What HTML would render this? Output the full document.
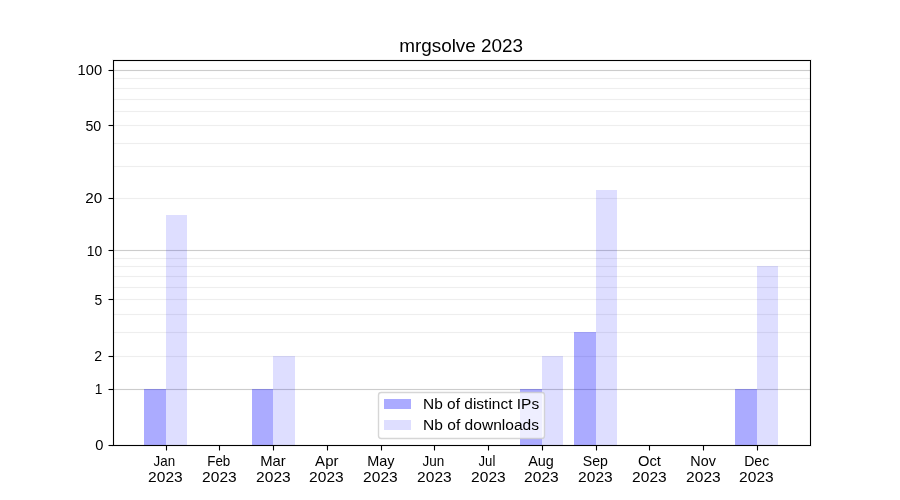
<!DOCTYPE html>
<html><head><meta charset="utf-8"><title>mrgsolve 2023</title>
<style>
html,body{margin:0;padding:0;background:#fff;}
svg{display:block;}
text{font-family:"Liberation Sans",sans-serif;fill:#000;}
.tx{will-change:transform;}
</style></head><body>
<svg width="900" height="500" viewBox="0 0 900 500">
<rect x="0" y="0" width="900" height="500" fill="#fff"/>
<g fill="#eeeeee"><rect x="113" y="78" width="697" height="1"/><rect x="113" y="88" width="697" height="1"/><rect x="113" y="99" width="697" height="1"/><rect x="113" y="111" width="697" height="1"/><rect x="113" y="125" width="697" height="1"/><rect x="113" y="143" width="697" height="1"/><rect x="113" y="166" width="697" height="1"/><rect x="113" y="198" width="697" height="1"/><rect x="113" y="258" width="697" height="1"/><rect x="113" y="266" width="697" height="1"/><rect x="113" y="276" width="697" height="1"/><rect x="113" y="287" width="697" height="1"/><rect x="113" y="299" width="697" height="1"/><rect x="113" y="314" width="697" height="1"/><rect x="113" y="332" width="697" height="1"/><rect x="113" y="356" width="697" height="1"/></g>
<g fill="#000" fill-opacity="0.0118"><rect x="113" y="69" width="697" height="1"/><rect x="113" y="71" width="697" height="1"/><rect x="113" y="249" width="697" height="1"/><rect x="113" y="251" width="697" height="1"/><rect x="113" y="388" width="697" height="1"/><rect x="113" y="390" width="697" height="1"/></g>
<g fill="#000" fill-opacity="0.004"><rect x="113" y="77" width="697" height="1"/><rect x="113" y="79" width="697" height="1"/><rect x="113" y="87" width="697" height="1"/><rect x="113" y="89" width="697" height="1"/><rect x="113" y="98" width="697" height="1"/><rect x="113" y="100" width="697" height="1"/><rect x="113" y="110" width="697" height="1"/><rect x="113" y="112" width="697" height="1"/><rect x="113" y="124" width="697" height="1"/><rect x="113" y="126" width="697" height="1"/><rect x="113" y="142" width="697" height="1"/><rect x="113" y="144" width="697" height="1"/><rect x="113" y="165" width="697" height="1"/><rect x="113" y="167" width="697" height="1"/><rect x="113" y="197" width="697" height="1"/><rect x="113" y="199" width="697" height="1"/><rect x="113" y="257" width="697" height="1"/><rect x="113" y="259" width="697" height="1"/><rect x="113" y="265" width="697" height="1"/><rect x="113" y="267" width="697" height="1"/><rect x="113" y="275" width="697" height="1"/><rect x="113" y="277" width="697" height="1"/><rect x="113" y="286" width="697" height="1"/><rect x="113" y="288" width="697" height="1"/><rect x="113" y="298" width="697" height="1"/><rect x="113" y="300" width="697" height="1"/><rect x="113" y="313" width="697" height="1"/><rect x="113" y="315" width="697" height="1"/><rect x="113" y="331" width="697" height="1"/><rect x="113" y="333" width="697" height="1"/><rect x="113" y="355" width="697" height="1"/><rect x="113" y="357" width="697" height="1"/></g>
<g fill="#cccccc"><rect x="113" y="70" width="697" height="1"/><rect x="113" y="250" width="697" height="1"/><rect x="113" y="389" width="697" height="1"/></g>
<g fill="#0000ff" fill-opacity="0.33"><rect x="144" y="389" width="22" height="56"/><rect x="252" y="389" width="21" height="56"/><rect x="520" y="389" width="22" height="56"/><rect x="574" y="332" width="22" height="113"/><rect x="735" y="389" width="22" height="56"/></g>
<g fill="#0000ff" fill-opacity="0.13"><rect x="166" y="215" width="21" height="230"/><rect x="273" y="356" width="22" height="89"/><rect x="542" y="356" width="21" height="89"/><rect x="596" y="190" width="21" height="255"/><rect x="757" y="266" width="21" height="179"/></g>
<g fill="#000"><rect x="113" y="60" width="1" height="386"/><rect x="810" y="60" width="1" height="386"/><rect x="113" y="60" width="698" height="1"/><rect x="113" y="445" width="698" height="1"/></g>
<g fill="#000" fill-opacity="0.055"><rect x="112" y="59" width="1" height="388"/><rect x="114" y="61" width="1" height="384"/><rect x="809" y="61" width="1" height="384"/><rect x="811" y="59" width="1" height="388"/><rect x="113" y="59" width="698" height="1"/><rect x="114" y="61" width="695" height="1"/><rect x="114" y="444" width="695" height="1"/><rect x="113" y="446" width="698" height="1"/></g>
<g fill="#000"><rect x="108.5" y="70" width="4.5" height="1"/><rect x="108.5" y="125" width="4.5" height="1"/><rect x="108.5" y="198" width="4.5" height="1"/><rect x="108.5" y="250" width="4.5" height="1"/><rect x="108.5" y="299" width="4.5" height="1"/><rect x="108.5" y="356" width="4.5" height="1"/><rect x="108.5" y="389" width="4.5" height="1"/><rect x="108.5" y="445" width="4.5" height="1"/><rect x="166" y="446" width="1" height="4.5"/><rect x="219" y="446" width="1" height="4.5"/><rect x="273" y="446" width="1" height="4.5"/><rect x="327" y="446" width="1" height="4.5"/><rect x="381" y="446" width="1" height="4.5"/><rect x="434" y="446" width="1" height="4.5"/><rect x="488" y="446" width="1" height="4.5"/><rect x="542" y="446" width="1" height="4.5"/><rect x="596" y="446" width="1" height="4.5"/><rect x="649" y="446" width="1" height="4.5"/><rect x="703" y="446" width="1" height="4.5"/><rect x="757" y="446" width="1" height="4.5"/></g>
<g fill="#000" fill-opacity="0.055"><rect x="109" y="69" width="4" height="1"/><rect x="109" y="71" width="4" height="1"/><rect x="109" y="124" width="4" height="1"/><rect x="109" y="126" width="4" height="1"/><rect x="109" y="197" width="4" height="1"/><rect x="109" y="199" width="4" height="1"/><rect x="109" y="249" width="4" height="1"/><rect x="109" y="251" width="4" height="1"/><rect x="109" y="298" width="4" height="1"/><rect x="109" y="300" width="4" height="1"/><rect x="109" y="355" width="4" height="1"/><rect x="109" y="357" width="4" height="1"/><rect x="109" y="388" width="4" height="1"/><rect x="109" y="390" width="4" height="1"/><rect x="109" y="444" width="4" height="1"/><rect x="109" y="446" width="4" height="1"/><rect x="165" y="446" width="1" height="4"/><rect x="167" y="446" width="1" height="4"/><rect x="218" y="446" width="1" height="4"/><rect x="220" y="446" width="1" height="4"/><rect x="272" y="446" width="1" height="4"/><rect x="274" y="446" width="1" height="4"/><rect x="326" y="446" width="1" height="4"/><rect x="328" y="446" width="1" height="4"/><rect x="380" y="446" width="1" height="4"/><rect x="382" y="446" width="1" height="4"/><rect x="433" y="446" width="1" height="4"/><rect x="435" y="446" width="1" height="4"/><rect x="487" y="446" width="1" height="4"/><rect x="489" y="446" width="1" height="4"/><rect x="541" y="446" width="1" height="4"/><rect x="543" y="446" width="1" height="4"/><rect x="595" y="446" width="1" height="4"/><rect x="597" y="446" width="1" height="4"/><rect x="648" y="446" width="1" height="4"/><rect x="650" y="446" width="1" height="4"/><rect x="702" y="446" width="1" height="4"/><rect x="704" y="446" width="1" height="4"/><rect x="756" y="446" width="1" height="4"/><rect x="758" y="446" width="1" height="4"/></g>
<g class="tx"><text transform="translate(153.538 466.000) scale(0.9548 1.0000)" font-size="14">Jan</text><text transform="translate(148.096 482.000) scale(1.1113 1.0000)" font-size="14">2023</text><text transform="translate(207.211 466.000) scale(0.9571 1.0000)" font-size="14">Feb</text><text transform="translate(202.096 482.000) scale(1.1113 1.0000)" font-size="14">2023</text><text transform="translate(260.231 466.000) scale(1.0590 1.0000)" font-size="14">Mar</text><text transform="translate(256.096 482.000) scale(1.1113 1.0000)" font-size="14">2023</text><text transform="translate(315.124 466.000) scale(1.0723 1.0000)" font-size="14">Apr</text><text transform="translate(309.096 482.000) scale(1.1113 1.0000)" font-size="14">2023</text><text transform="translate(367.185 466.000) scale(1.0329 1.0000)" font-size="14">May</text><text transform="translate(363.096 482.000) scale(1.1113 1.0000)" font-size="14">2023</text><text transform="translate(422.505 466.000) scale(0.9648 1.0000)" font-size="14">Jun</text><text transform="translate(417.096 482.000) scale(1.1113 1.0000)" font-size="14">2023</text><text transform="translate(478.555 466.000) scale(0.9373 1.0000)" font-size="14">Jul</text><text transform="translate(471.096 482.000) scale(1.1113 1.0000)" font-size="14">2023</text><text transform="translate(528.163 466.000) scale(1.0317 1.0000)" font-size="14">Aug</text><text transform="translate(524.096 482.000) scale(1.1113 1.0000)" font-size="14">2023</text><text transform="translate(582.773 466.000) scale(1.0086 1.0000)" font-size="14">Sep</text><text transform="translate(578.096 482.000) scale(1.1113 1.0000)" font-size="14">2023</text><text transform="translate(638.008 466.000) scale(1.0534 1.0000)" font-size="14">Oct</text><text transform="translate(632.096 482.000) scale(1.1113 1.0000)" font-size="14">2023</text><text transform="translate(690.288 466.000) scale(1.0277 1.0000)" font-size="14">Nov</text><text transform="translate(686.096 482.000) scale(1.1113 1.0000)" font-size="14">2023</text><text transform="translate(744.168 466.000) scale(1.0049 1.0000)" font-size="14">Dec</text><text transform="translate(739.096 482.000) scale(1.1113 1.0000)" font-size="14">2023</text><text transform="translate(95.187 450.000) scale(1.0492 1.0000)" font-size="14">0</text><text transform="translate(94.632 394.000) scale(0.9825 1.0000)" font-size="14">1</text><text transform="translate(94.247 361.000) scale(1.0075 1.0000)" font-size="14">2</text><text transform="translate(94.422 305.000) scale(0.9915 1.0000)" font-size="14">5</text><text transform="translate(86.770 256.000) scale(0.9918 1.0000)" font-size="14">10</text><text transform="translate(85.293 203.000) scale(1.0886 1.0000)" font-size="14">20</text><text transform="translate(85.457 131.000) scale(1.0159 1.0000)" font-size="14">50</text><text transform="translate(77.553 75.000) scale(1.0497 1.0000)" font-size="14">100</text><text transform="translate(399.204 52.000) scale(1.0855 1.0300)" font-size="17.4">mrgsolve 2023</text></g>
<rect x="378.5" y="392.5" width="166" height="46" rx="2.78" ry="2.78" fill="#fff" fill-opacity="0.8" stroke="#ccc" stroke-opacity="0.8" stroke-width="1.39"/>
<rect x="384" y="399" width="27" height="10" fill="#0000ff" fill-opacity="0.33"/><rect x="384" y="420" width="27" height="10" fill="#0000ff" fill-opacity="0.13"/>
<g class="tx"><text transform="translate(423.044 409.000) scale(1.1060 1.0000)" font-size="14">Nb of distinct IPs</text><text transform="translate(423.085 430.000) scale(1.1116 1.0000)" font-size="14">Nb of downloads</text></g>
</svg>
</body></html>
